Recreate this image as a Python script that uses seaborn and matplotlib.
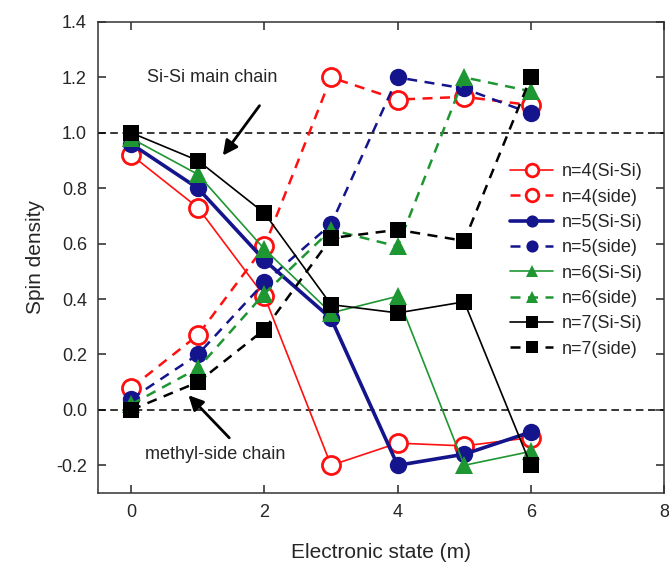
import matplotlib
matplotlib.use("Agg")
import matplotlib.pyplot as plt
import seaborn as sns
import pandas as pd

states = [0, 1, 2, 3, 4, 5, 6]

n4_sisi = [0.92, 0.73, 0.41, -0.20, -0.12, -0.13, -0.10]
n4_side = [0.08, 0.27, 0.59, 1.20, 1.12, 1.13, 1.10]
n5_sisi = [0.96, 0.80, 0.54, 0.33, -0.20, -0.16, -0.08]
n5_side = [0.04, 0.20, 0.46, 0.67, 1.20, 1.16, 1.07]
n6_sisi = [0.98, 0.85, 0.58, 0.35, 0.41, -0.20, -0.15]
n6_side = [0.02, 0.15, 0.42, 0.65, 0.59, 1.20, 1.15]
n7_sisi = [1.00, 0.90, 0.71, 0.38, 0.35, 0.39, -0.20]
n7_side = [0.00, 0.10, 0.29, 0.62, 0.65, 0.61, 1.20]

labels = ["n=4(Si-Si)", "n=4(side)", "n=5(Si-Si)", "n=5(side)",
          "n=6(Si-Si)", "n=6(side)", "n=7(Si-Si)", "n=7(side)"]
series = [n4_sisi, n4_side, n5_sisi, n5_side, n6_sisi, n6_side, n7_sisi, n7_side]

sns.set_style("ticks")
plt.rcParams['font.family'] = ['Liberation Sans', 'DejaVu Sans']

fig = plt.figure(figsize=(6.69, 5.71), dpi=100)
ax = fig.add_axes([98/669, 1 - 493/571, (664 - 98)/669, (493 - 22)/571])

RED = "#ff1010"
BLUE = "#14148c"
GREEN = "#1e9632"
BLACK = "#000000"

DASH = (0, (4, 3))
styles = {
    "n=4(Si-Si)": dict(color=RED, marker="o", ls="-", lw=1.2, ms=13, mfc="white", mec=RED, mew=2.0),
    "n=4(side)": dict(color=RED, marker="o", ls=DASH, lw=1.8, ms=13, mfc="white", mec=RED, mew=2.0),
    "n=5(Si-Si)": dict(color=BLUE, marker="o", ls="-", lw=2.6, ms=12.5, mfc=BLUE, mec=BLUE, mew=0),
    "n=5(side)": dict(color=BLUE, marker="o", ls=DASH, lw=1.8, ms=12.5, mfc=BLUE, mec=BLUE, mew=0),
    "n=6(Si-Si)": dict(color=GREEN, marker="^", ls="-", lw=1.2, ms=13, mfc=GREEN, mec=GREEN, mew=0),
    "n=6(side)": dict(color=GREEN, marker="^", ls=DASH, lw=1.8, ms=13, mfc=GREEN, mec=GREEN, mew=0),
    "n=7(Si-Si)": dict(color=BLACK, marker="s", ls="-", lw=1.2, ms=12, mfc=BLACK, mec=BLACK, mew=0),
    "n=7(side)": dict(color=BLACK, marker="s", ls=DASH, lw=1.8, ms=12, mfc=BLACK, mec=BLACK, mew=0),
}

ax.axhline(0.0, color="black", ls=(0, (5, 3)), lw=1.1, zorder=1)
ax.axhline(1.0, color="black", ls=(0, (5, 3)), lw=1.1, zorder=1)

for i, (lab, vals) in enumerate(zip(labels, series)):
    st = styles[lab]
    df = pd.DataFrame({"state": states, "spin": vals})
    sns.lineplot(data=df, x="state", y="spin", ax=ax, color=st["color"],
                 marker=st["marker"], linestyle=st["ls"], linewidth=st["lw"],
                 markersize=st["ms"], markerfacecolor=st["mfc"],
                 markeredgecolor=st["mec"], markeredgewidth=st["mew"],
                 label=lab, zorder=3 + i)

ax.set_xlim(-0.5, 8)
ax.set_ylim(-0.3, 1.4)
ax.set_xticks([0, 2, 4, 6, 8])
ax.set_yticks([-0.2, 0.0, 0.2, 0.4, 0.6, 0.8, 1.0, 1.2, 1.4])
ax.set_yticklabels(["-0.2", "0.0", "0.2", "0.4", "0.6", "0.8", "1.0", "1.2", "1.4"])
ax.tick_params(direction="in", length=6, width=1.1, top=True, right=True,
               labelsize=13, pad=8)
for sp in ax.spines.values():
    sp.set_linewidth(1.1)
    sp.set_color("#333333")

ax.set_xlabel("Electronic state (m)", fontsize=15, labelpad=16)
ax.set_ylabel("Spin density", fontsize=15, labelpad=8)

ax.annotate("", xy=(1.35, 0.91), xytext=(1.95, 1.106),
            arrowprops=dict(arrowstyle="-|>", color="black", lw=2.0,
                            mutation_scale=22))
ax.text(0.24, 1.20, "Si-Si main chain", fontsize=13, ha="left", va="center")
ax.annotate("", xy=(0.83, 0.06), xytext=(1.50, -0.108),
            arrowprops=dict(arrowstyle="-|>", color="black", lw=2.0,
                            mutation_scale=22))
ax.text(0.21, -0.162, "methyl-side chain", fontsize=13, ha="left", va="center")

leg = ax.legend(loc="upper left", bbox_to_anchor=(0.715, 0.715), frameon=False,
                fontsize=13, markerscale=0.7, handlelength=2.4,
                labelspacing=0.46, handletextpad=0.5, borderaxespad=0)

fig.savefig("out.png", dpi=100, facecolor="white")
